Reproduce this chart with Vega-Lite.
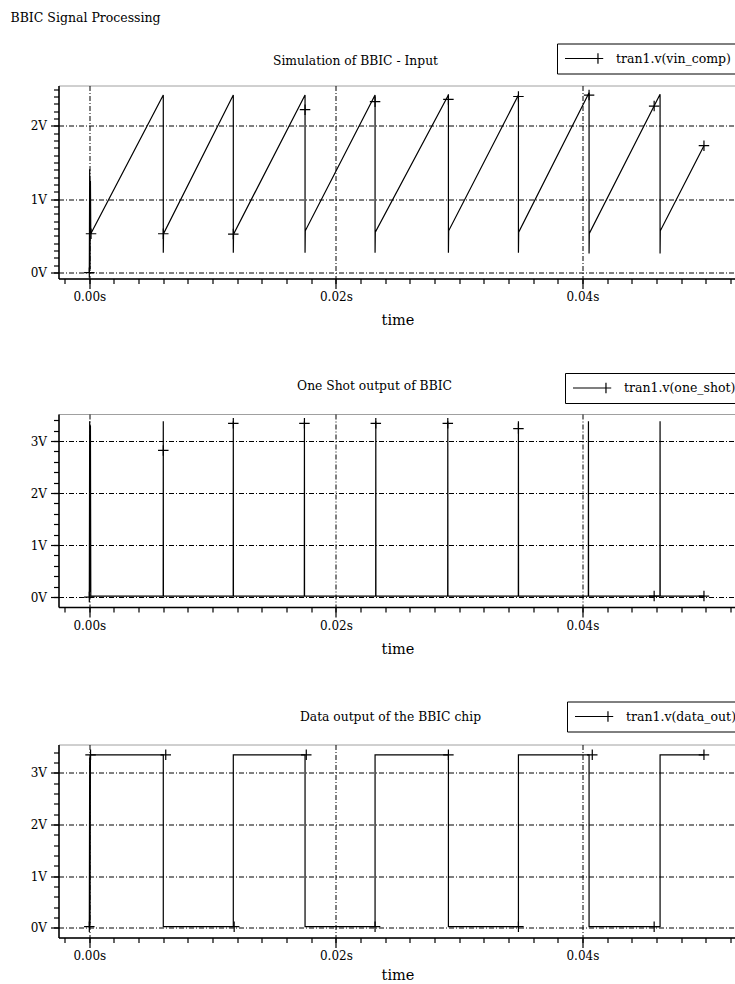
{
  "$schema": "https://vega.github.io/schema/vega-lite/v6.json",
  "background": "white",
  "padding": {"left": 10.5, "top": 11.5, "right": 0, "bottom": 0},
  "title": {"text": "BBIC Signal Processing", "anchor": "start", "frame": "group", "font": "DejaVu Serif", "fontSize": 12.5, "fontWeight": "normal", "color": "black", "dx": -48, "offset": 18},
  "datasets": {
    "p1": [
      {"t": 0, "v": 0}, {"t": 0.00003, "v": 1.41}, {"t": 0.00006, "v": 0.05}, {"t": 0.00009, "v": 1.25}, {"t": 0.00012, "v": 0.53},
      {"t": 0.006, "v": 2.42}, {"t": 0.006, "v": 0.27}, {"t": 0.00602, "v": 0.53},
      {"t": 0.01168, "v": 2.42}, {"t": 0.01168, "v": 0.27}, {"t": 0.0117, "v": 0.525},
      {"t": 0.0175, "v": 2.42}, {"t": 0.0175, "v": 0.27}, {"t": 0.01752, "v": 0.57},
      {"t": 0.02318, "v": 2.42}, {"t": 0.02318, "v": 0.27}, {"t": 0.0232, "v": 0.55},
      {"t": 0.02913, "v": 2.42}, {"t": 0.02913, "v": 0.27}, {"t": 0.02915, "v": 0.57},
      {"t": 0.03481, "v": 2.42}, {"t": 0.03481, "v": 0.27}, {"t": 0.03483, "v": 0.55},
      {"t": 0.04054, "v": 2.45}, {"t": 0.04054, "v": 0.26}, {"t": 0.04056, "v": 0.535},
      {"t": 0.0463, "v": 2.43}, {"t": 0.0463, "v": 0.26}, {"t": 0.04632, "v": 0.57},
      {"t": 0.04986, "v": 1.73}
    ],
    "p1m": [
      {"t": 0, "v": 0}, {"t": 0.00014, "v": 0.53}, {"t": 0.006, "v": 0.53}, {"t": 0.01168, "v": 0.525},
      {"t": 0.0175, "v": 2.22}, {"t": 0.02318, "v": 2.33}, {"t": 0.02913, "v": 2.36}, {"t": 0.03481, "v": 2.4},
      {"t": 0.04054, "v": 2.42}, {"t": 0.04582, "v": 2.27}, {"t": 0.04986, "v": 1.73}
    ],
    "p2": [
      {"t": 0, "v": 0}, {"t": 0.00003, "v": 3.38}, {"t": 0.00006, "v": 0.1}, {"t": 0.00009, "v": 3.3}, {"t": 0.00012, "v": 0.02},
      {"t": 0.00599, "v": 0.02}, {"t": 0.006, "v": 3.38}, {"t": 0.00601, "v": 0.02},
      {"t": 0.01167, "v": 0.02}, {"t": 0.01168, "v": 3.38}, {"t": 0.01169, "v": 0.02},
      {"t": 0.01744, "v": 0.02}, {"t": 0.01745, "v": 3.38}, {"t": 0.01746, "v": 0.02},
      {"t": 0.02323, "v": 0.02}, {"t": 0.02324, "v": 3.38}, {"t": 0.02325, "v": 0.02},
      {"t": 0.02907, "v": 0.02}, {"t": 0.02908, "v": 3.38}, {"t": 0.02909, "v": 0.02},
      {"t": 0.0348, "v": 0.02}, {"t": 0.03481, "v": 3.38}, {"t": 0.03482, "v": 0.02},
      {"t": 0.04048, "v": 0.02}, {"t": 0.04049, "v": 3.38}, {"t": 0.0405, "v": 0.02},
      {"t": 0.04629, "v": 0.02}, {"t": 0.0463, "v": 3.38}, {"t": 0.04631, "v": 0.02},
      {"t": 0.04986, "v": 0.02}
    ],
    "p2m": [
      {"t": 0, "v": 0}, {"t": 0.006, "v": 2.82}, {"t": 0.01168, "v": 3.34}, {"t": 0.01745, "v": 3.34},
      {"t": 0.02324, "v": 3.34}, {"t": 0.02908, "v": 3.34}, {"t": 0.03481, "v": 3.24},
      {"t": 0.04582, "v": 0.02}, {"t": 0.04986, "v": 0.02}
    ],
    "p3": [
      {"t": 0, "v": 0}, {"t": 0.00003, "v": 3.3}, {"t": 0.00006, "v": 0.05}, {"t": 0.00009, "v": 3.35}, {"t": 0.00012, "v": 3.35},
      {"t": 0.006, "v": 3.35}, {"t": 0.006, "v": 0.02}, {"t": 0.01168, "v": 0.02}, {"t": 0.01168, "v": 3.35},
      {"t": 0.0175, "v": 3.35}, {"t": 0.0175, "v": 0.02}, {"t": 0.02318, "v": 0.02}, {"t": 0.02318, "v": 3.35},
      {"t": 0.02913, "v": 3.35}, {"t": 0.02913, "v": 0.02}, {"t": 0.03481, "v": 0.02}, {"t": 0.03481, "v": 3.35},
      {"t": 0.04054, "v": 3.35}, {"t": 0.04054, "v": 0.02}, {"t": 0.0463, "v": 0.02}, {"t": 0.0463, "v": 3.35},
      {"t": 0.04986, "v": 3.35}
    ],
    "p3m": [
      {"t": 0, "v": 0.02}, {"t": 0.0001, "v": 3.35}, {"t": 0.0062, "v": 3.35}, {"t": 0.01175, "v": 0.02},
      {"t": 0.0176, "v": 3.35}, {"t": 0.02318, "v": 0.02}, {"t": 0.02913, "v": 3.35}, {"t": 0.03481, "v": 0.02},
      {"t": 0.0408, "v": 3.35}, {"t": 0.04582, "v": 0.02}, {"t": 0.04986, "v": 3.35}
    ]
  },
  "vconcat": [
    {
      "width": 678, "height": 193,
      "title": {"text": "Simulation of BBIC - Input", "anchor": "middle", "frame": "group", "dx": -42, "offset": -24},
      "layer": [
        {
          "data": {"name": "p1"},
          "mark": {"type": "line", "strokeWidth": 1.2},
          "encoding": {
            "x": {"field": "t", "type": "quantitative", "scale": {"domain": [-0.0025, 0.0525], "nice": false, "zero": false},
                  "axis": {"orient": "bottom", "values": [0, 0.02, 0.04], "labelExpr": "format(datum.value, '.2f') + 's'", "title": "time", "grid": true, "tickSize": 10, "labelPadding": 3, "titlePadding": 11}},
            "y": {"field": "v", "type": "quantitative", "scale": {"domain": [-0.08, 2.55], "nice": false, "zero": false},
                  "axis": {"orient": "left", "values": [0, 1, 2], "labelExpr": "datum.value + 'V'", "title": null, "grid": true, "tickSize": 8, "labelPadding": 4}},
            "color": {"datum": "tran1.v(vin_comp)", "type": "nominal", "scale": {"range": ["black"]},
                      "legend": {"title": null, "orient": "none", "legendX": 498.5, "legendY": -42, "symbolType": "M-1,0H3.71M3.71,-0.75V0.75M2.96,0H4.46", "symbolSize": 196}},
            "order": {"value": null}
          }
        },
        {
          "data": {"name": "p1m"},
          "mark": {"type": "point", "shape": "M-1,0H1M0,-1V1", "filled": false, "color": "black", "strokeWidth": 1.2, "size": 110, "opacity": 1},
          "encoding": {
            "x": {"field": "t", "type": "quantitative", "scale": {"domain": [-0.0025, 0.0525], "nice": false, "zero": false},
                  "axis": {"orient": "bottom", "values": [-0.002, 0, 0.002, 0.004, 0.006, 0.008, 0.01, 0.012, 0.014, 0.016, 0.018, 0.02, 0.022, 0.024, 0.026, 0.028, 0.03, 0.032, 0.034, 0.036, 0.038, 0.04, 0.042, 0.044, 0.046, 0.048, 0.05, 0.052], "labels": false, "grid": false, "domain": false, "tickSize": 5, "title": null}},
            "y": {"field": "v", "type": "quantitative", "scale": {"domain": [-0.08, 2.55], "nice": false, "zero": false},
                  "axis": {"orient": "left", "values": [0, 0.1, 0.2, 0.3, 0.4, 0.5, 0.6, 0.7, 0.8, 0.9, 1, 1.1, 1.2, 1.3, 1.4, 1.5, 1.6, 1.7, 1.8, 1.9, 2, 2.1, 2.2, 2.3, 2.4, 2.5], "labels": false, "grid": false, "domain": false, "tickSize": 5, "title": null}}
          }
        }
      ],
      "resolve": {"axis": {"x": "independent", "y": "independent"}}
    },
    {
      "width": 678, "height": 193,
      "title": {"text": "One Shot output of BBIC", "anchor": "middle", "frame": "group", "dx": -23, "offset": -20},
      "layer": [
        {
          "data": {"name": "p2"},
          "mark": {"type": "line", "strokeWidth": 1.2},
          "encoding": {
            "x": {"field": "t", "type": "quantitative", "scale": {"domain": [-0.0025, 0.0525], "nice": false, "zero": false},
                  "axis": {"orient": "bottom", "values": [0, 0.02, 0.04], "labelExpr": "format(datum.value, '.2f') + 's'", "title": "time", "grid": true, "tickSize": 10, "labelPadding": 3, "titlePadding": 11}},
            "y": {"field": "v", "type": "quantitative", "scale": {"domain": [-0.19, 3.52], "nice": false, "zero": false},
                  "axis": {"orient": "left", "values": [0, 1, 2, 3], "labelExpr": "datum.value + 'V'", "title": null, "grid": true, "tickSize": 8, "labelPadding": 4}},
            "color": {"datum": "tran1.v(one_shot)", "type": "nominal", "scale": {"range": ["black"]},
                      "legend": {"title": null, "orient": "none", "legendX": 506.5, "legendY": -41, "symbolType": "M-1,0H3.71M3.71,-0.75V0.75M2.96,0H4.46", "symbolSize": 196}},
            "order": {"value": null}
          }
        },
        {
          "data": {"name": "p2m"},
          "mark": {"type": "point", "shape": "M-1,0H1M0,-1V1", "filled": false, "color": "black", "strokeWidth": 1.2, "size": 110, "opacity": 1},
          "encoding": {
            "x": {"field": "t", "type": "quantitative", "scale": {"domain": [-0.0025, 0.0525], "nice": false, "zero": false},
                  "axis": {"orient": "bottom", "values": [-0.002, 0, 0.002, 0.004, 0.006, 0.008, 0.01, 0.012, 0.014, 0.016, 0.018, 0.02, 0.022, 0.024, 0.026, 0.028, 0.03, 0.032, 0.034, 0.036, 0.038, 0.04, 0.042, 0.044, 0.046, 0.048, 0.05, 0.052], "labels": false, "grid": false, "domain": false, "tickSize": 5, "title": null}},
            "y": {"field": "v", "type": "quantitative", "scale": {"domain": [-0.19, 3.52], "nice": false, "zero": false},
                  "axis": {"orient": "left", "values": [0, 0.2, 0.4, 0.6, 0.8, 1, 1.2, 1.4, 1.6, 1.8, 2, 2.2, 2.4, 2.6, 2.8, 3, 3.2, 3.4], "labels": false, "grid": false, "domain": false, "tickSize": 5, "title": null}}
          }
        }
      ],
      "resolve": {"axis": {"x": "independent", "y": "independent"}}
    },
    {
      "width": 678, "height": 193,
      "title": {"text": "Data output of the BBIC chip", "anchor": "middle", "frame": "group", "dx": -7, "offset": -22},
      "layer": [
        {
          "data": {"name": "p3"},
          "mark": {"type": "line", "strokeWidth": 1.2},
          "encoding": {
            "x": {"field": "t", "type": "quantitative", "scale": {"domain": [-0.0025, 0.0525], "nice": false, "zero": false},
                  "axis": {"orient": "bottom", "values": [0, 0.02, 0.04], "labelExpr": "format(datum.value, '.2f') + 's'", "title": "time", "grid": true, "tickSize": 10, "labelPadding": 3, "titlePadding": 7}},
            "y": {"field": "v", "type": "quantitative", "scale": {"domain": [-0.19, 3.55], "nice": false, "zero": false},
                  "axis": {"orient": "left", "values": [0, 1, 2, 3], "labelExpr": "datum.value + 'V'", "title": null, "grid": true, "tickSize": 8, "labelPadding": 4}},
            "color": {"datum": "tran1.v(data_out)", "type": "nominal", "scale": {"range": ["black"]},
                      "legend": {"title": null, "orient": "none", "legendX": 508.5, "legendY": -43, "symbolType": "M-1,0H3.71M3.71,-0.75V0.75M2.96,0H4.46", "symbolSize": 196}},
            "order": {"value": null}
          }
        },
        {
          "data": {"name": "p3m"},
          "mark": {"type": "point", "shape": "M-1,0H1M0,-1V1", "filled": false, "color": "black", "strokeWidth": 1.2, "size": 110, "opacity": 1},
          "encoding": {
            "x": {"field": "t", "type": "quantitative", "scale": {"domain": [-0.0025, 0.0525], "nice": false, "zero": false},
                  "axis": {"orient": "bottom", "values": [-0.002, 0, 0.002, 0.004, 0.006, 0.008, 0.01, 0.012, 0.014, 0.016, 0.018, 0.02, 0.022, 0.024, 0.026, 0.028, 0.03, 0.032, 0.034, 0.036, 0.038, 0.04, 0.042, 0.044, 0.046, 0.048, 0.05, 0.052], "labels": false, "grid": false, "domain": false, "tickSize": 5, "title": null}},
            "y": {"field": "v", "type": "quantitative", "scale": {"domain": [-0.19, 3.55], "nice": false, "zero": false},
                  "axis": {"orient": "left", "values": [0, 0.2, 0.4, 0.6, 0.8, 1, 1.2, 1.4, 1.6, 1.8, 2, 2.2, 2.4, 2.6, 2.8, 3, 3.2, 3.4], "labels": false, "grid": false, "domain": false, "tickSize": 5, "title": null}}
          }
        }
      ],
      "resolve": {"axis": {"x": "independent", "y": "independent"}}
    }
  ],
  "spacing": 44.5,
  "resolve": {"scale": {"color": "independent", "x": "independent", "y": "independent"}, "legend": {"color": "independent"}},
  "config": {
    "view": {"stroke": "#a0a0a0", "strokeWidth": 1},
    "axis": {
      "labelFont": "DejaVu Serif", "labelFontSize": 12, "labelColor": "black",
      "titleFont": "DejaVu Serif", "titleFontSize": 14.5, "titleFontWeight": "normal", "titleColor": "black",
      "domainColor": "black", "domainWidth": 1.5, "tickColor": "black", "tickWidth": 1.2,
      "gridColor": "black", "gridOpacity": 1, "gridDash": [5, 2, 1, 2], "gridWidth": 1,
      "labelOverlap": false, "labelFlush": false
    },
    "title": {"font": "DejaVu Serif", "fontSize": 12.3, "fontWeight": "normal", "color": "black"},
    "legend": {
      "strokeColor": "black", "strokeWidth": 1, "fillColor": "white", "padding": 7, "cornerRadius": 0,
      "labelFont": "DejaVu Serif", "labelFontSize": 12.5, "labelColor": "black", "labelOffset": 36, "labelLimit": 300,
      "symbolStrokeWidth": 1.2, "symbolStrokeColor": "black"
    }
  }
}
